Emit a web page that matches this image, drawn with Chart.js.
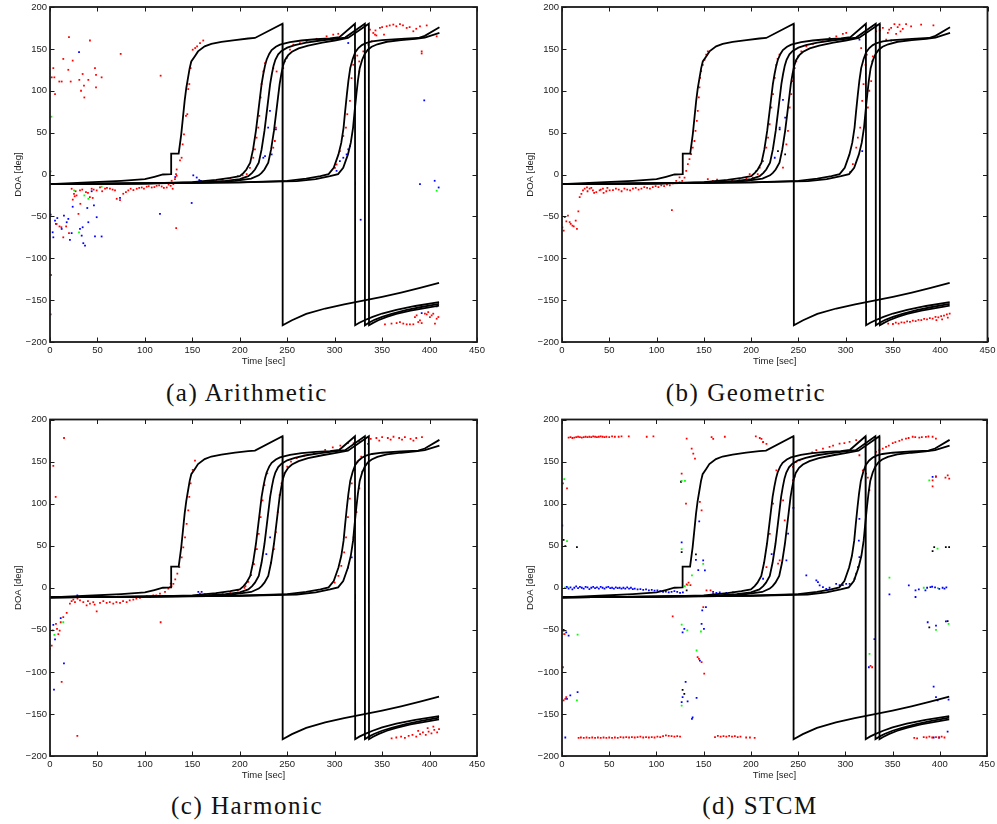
<!DOCTYPE html>
<html>
<head>
<meta charset="utf-8">
<script src="https://cdn.jsdelivr.net/npm/chart.js@4.4.0/dist/chart.umd.min.js"></script>
<style>
  body { margin: 0; background: #fff; width: 997px; height: 824px; position: relative; overflow: hidden; }
  canvas { position: absolute; }
  .cap { position: absolute; width: 300px; text-align: center; line-height: 30px;
         font-family: "Liberation Serif", "Times New Roman", serif; font-size: 25px;
         letter-spacing: 1.5px; color: #111; }
</style>
</head>
<body>
<canvas id="chartA" width="500" height="372" style="left:0;top:0"></canvas>
<canvas id="chartB" width="497" height="372" style="left:500px;top:0"></canvas>
<canvas id="chartC" width="500" height="374" style="left:0;top:412px"></canvas>
<canvas id="chartD" width="497" height="374" style="left:500px;top:412px"></canvas>
<div class="cap" style="left:97px;top:378px">(a) Arithmetic</div>
<div class="cap" style="left:596px;top:378px">(b) Geometric</div>
<div class="cap" style="left:97px;top:791px">(c) Harmonic</div>
<div class="cap" style="left:610px;top:791px">(d) STCM</div>
<script>
// axis ticks
const xTicks = [0, 50, 100, 150, 200, 250, 300, 350, 400, 450];
const yTicks = [-200, -150, -100, -50, 0, 50, 100, 150, 200];

// true source tracks [time, DOA]
const track1 = [[0,-11.5],[40,-9.5],[75,-7.5],[100,-5.5],[110,-2.7],[119,0],[127.6,0.5],[127.7,25],[135.6,25],[138.3,48],[140.1,68],[141.9,88],[143.6,103],[145.4,115],[147.2,127],[148.9,135],[152.5,141],[156,147],[163,153],[170,156],[180.6,158.3],[195,160.5],[208.8,162.4],[216,163],[245,180],[245.2,-180],[255,-174],[270,-166.5],[290,-160],[310,-155],[330,-150.5],[350,-146],[370,-141],[390,-135.5],[410,-129.5]];
const track2 = [[0,-11.5],[100,-10.5],[150,-9],[175,-6.5],[190,-4],[200,-2],[204,2],[207,6],[211,14],[214,30],[217,52],[219.5,75],[221.3,92],[223,108],[224.8,120],[226.6,130],[228.3,137],[231,144],[233.6,148.5],[238,152.5],[242.4,155],[252.9,158],[265,160],[280,161.5],[295,162.5],[305,164],[321.4,180],[321.6,-180],[326,-177],[331.5,-174],[340,-170],[350,-166],[365,-161.5],[385,-157],[410,-152.5]];
const track3 = [[0,-11.5],[100,-10.5],[160,-9.5],[185,-7.5],[200,-5.5],[209,-2],[213,2],[216,6],[220,14],[223,30],[226,52],[228.5,75],[230.3,92],[232,108],[233.8,120],[235.6,130],[237.5,137],[240.5,143.5],[244,147.5],[250,151.5],[258,154.5],[270,157.5],[285,160],[300,162],[311,163.5],[331.8,180],[331.9,-180],[336,-177],[342,-173.5],[350,-170],[360,-166.5],[375,-162],[390,-158.5],[410,-154.5]];
const track4 = [[0,-11.5],[100,-10.5],[170,-9.5],[195,-7.5],[212,-5],[220,-1],[223,2],[226,6],[230,14],[233,30],[236,52],[238.5,75],[240.3,92],[242,108],[243.8,120],[245.6,130],[247.5,136.5],[251,142.5],[255,146.5],[262,150.5],[272,154],[287,157.5],[300,160],[314,163],[336,180],[336.2,-180],[340,-177.5],[346,-174],[355,-170],[365,-166.5],[380,-162.5],[395,-159.5],[410,-156.5]];
const track5 = [[0,-11.5],[100,-10.5],[200,-9.5],[250,-7.5],[270,-5],[285,-2],[293.6,0.5],[299,8],[304,24],[307,38],[309.4,56],[311,75],[312.9,96],[314.5,112],[316.4,127],[319,138],[321.7,146],[325,151],[328.7,154.5],[333,157],[339.3,159],[350,160.5],[370,162],[388,163],[395,165.5],[410.4,175.8]];
const track6 = [[0,-11.5],[100,-10.5],[200,-9.5],[260,-8],[280,-5.5],[295,-2],[303.6,0.5],[309,8],[314,24],[317,38],[319.4,56],[321,75],[322.9,96],[324.5,112],[326.4,127],[329,137],[331.7,144],[335,149],[339,152.5],[345,155.5],[355,158.5],[370,160.5],[385,162],[395,163.5],[410.4,169]];

// (a) Arithmetic estimates
const redA = [[20,164],[3.5,127],[4.6,116],[14,138],[19.3,125],[12.3,111],[5.3,96],[23.9,136],[21.8,111],[34.4,120],[30.9,113],[32.7,100],[35.8,106],[36.2,92],[40.4,113],[42.1,160],[47.4,127],[48.5,119],[48.5,104],[54.4,116],[74.5,144],[116.6,118],[1.8,116],[9.8,111],
  [150.4,149],[148.2,127],[146.8,108],[145.7,102],[144.7,72],[143.3,70],[141.2,48],[139.8,36],[138.7,20],[137,17],[133.5,6],[132.8,0.5],[131.7,-5.5],[128.2,-7.5],[158.1,157],[161.5,160],[155,153],[153,151],
  [22.8,-17],[25.3,-23],[31.6,-19],[37.9,-21],[43.9,-17],[49.2,-19],[52.7,-15.5],[58,-17],[63.2,-17],[68.5,-19],[70.3,-29],[73.8,-30.5],[77.2,-23],[82.5,-19],[87.9,-18.6],[91.4,-17],[96.7,-15.5],[101.9,-14.6],[107.2,-15.5],[112.4,-13.5],[117.7,-14.3],[123,-15.5],[127.2,-13.5],[130,-11.5],[133.5,-1.5],[129.3,-17],
  [27,-20],[34,-18],[40,-22],[46,-18],[55,-20],[60,-16],[66,-18],[80,-21],[85,-17],[94,-16],[99,-17],[104,-14],[110,-15],[115,-13],[120,-16],[125,-12],
  [7,-59],[10,-62],[12,-63],[14,-75],[17,-62],[20,-70],[30,-47],[28,-25],[32,-35],[42,-27],[45,-28],[1,-120],[0.7,-167],[133,-64],[24,-30],[26,-26],
  [207.3,0.5],[210.7,8],[214.2,20],[216,30],[217.7,44],[219.5,56],[220.6,70],[222,92],[223,108],[224.8,123],[226.6,133],[235.3,32],[237,40],[238.1,56],[235.3,127],[238.8,123],[245.8,127],[247.6,135],[249.4,139],[252.9,149],[256.4,155],[263.4,157],[270.4,159],[281,162],[291.5,165],[298.5,167],[303.8,168],[175,-8],[182,-6],[190,-4],[198,-2],[203,-1],
  [309.1,46],[311.9,56],[313.3,72],[316.1,88],[317.8,115],[319.6,131],[321.4,139],[323.8,142],[325.9,135],[325.9,123],[330.2,147],[335.5,155],[305.5,28],[302,12],[300.3,8],
  [337.2,173],[340.7,169],[347.7,175],[354.8,177],[361.8,179],[368.8,179.5],[375.9,175],[382.9,171],[389.9,177],[397,178],[407.5,165],[391.7,147],[391.7,144.5],[343,172],[350,176],[358,178],[365,177],[372,178],[379,176],[386,174],[344,166],[352,167],[339,159],[342.5,167],
  [353,-179],[359.9,-178],[365.3,-177.4],[368.8,-176.2],[372.3,-178],[375.9,-178.9],[379.3,-179],[382.9,-178.9],[384.6,-170.2],[386.4,-168.2],[388.1,-176.2],[389.9,-174.2],[391.7,-177.4],[395.1,-166.2],[397,-167],[398.6,-164.3],[400.4,-170.2],[402.2,-168.2],[403.9,-166.2],[405.7,-178],[407.5,-172.2],[409.3,-170.2]];
const blueA = [[30.6,146],[0.7,-48],[2.8,-69],[3.5,-75],[5.3,-55],[6.3,-59],[7.7,-52],[12.3,-65],[14.7,-49],[17.6,-57],[19.3,-53],[21,-78],[22.8,-70],[23.9,-38.5],[31.6,-65],[33.4,-73],[34.4,-63],[35.1,-82],[36.9,-85],[39.3,-40],[40.4,-57],[43.9,-20],[46.3,-37],[49.2,-51],[47.4,-74],[54.4,-74],[73.8,-28],[115.9,-47],[149.3,-34],[151,-1],[154.6,-3.6],[157.3,-6.7],[159.1,-7.5],[132,-3],[231.8,76],[229.9,56],[238.1,54],[233.6,24],[226.6,22],[224.8,20],[314.3,30],[316.1,34],[312.6,24],[309.1,20],[305.5,16],[302,4.4],[314.3,157],[394.4,88.5],[389.9,-11.5],[405.4,-7.5],[409.6,-15.5],[327.4,-54],[391.7,-165.5],[407.5,-157.5]];
const greenA = [[1.5,69],[0.7,3.6],[25.3,-19],[36.2,-25],[40.4,-29],[30.6,-69],[54.4,-14.6],[407.5,-19.4]];

// (b) Geometric estimates
const redB = [[0.4,-63],[1.8,-67],[2.9,-51],[4.6,-56],[6.3,-49],[8.1,-57],[9.2,-59],[11,-61],[12.4,-62],[14.5,-55],[15.8,-65],[17.3,-44],[18.7,-27],[20.5,-23],[22.2,-19],[24,-17],[26.4,-15.5],[29.2,-17],[32.7,-19],[36.3,-21],[39.8,-19],[43.3,-17],[46.9,-20],[50.4,-19],[53.9,-18.6],[57,-17],[60,-18],[63,-20],[66,-17],[69,-18],[72,-19],[75,-17],[78,-16],[81,-18],[84,-17],[87,-15],[90,-16],[93,-17],[96,-15],[99,-14],[102,-15],[105,-13],[108,-14],[111,-12],[114,-13],[117.2,-10.7],[120.8,-7.5],[124.3,-3.5],[116.2,-42.4],[27,-20],[31,-16],[34,-22],[41,-18],[44,-22],[48,-16],
  [124.3,-9.5],[127.1,-7.5],[129.6,-3.6],[131.4,4.4],[133.1,12.4],[134.8,18.3],[136.6,24.3],[138.3,32],[140.1,40],[141.2,52],[142.6,64],[143.6,76],[144.7,92],[145.4,104],[146.1,115.5],[147.2,123.5],[148.9,131],[150.7,137],[152.5,143],[154.2,147],
  [154.2,-5.5],[159.5,-7.5],[164,-6],[168,-8],[173.6,-8.3],[180,-7],[187.6,-6.7],[195,-5],[201.7,-3.6],[207,0.5],[162,-9],[185,-8.5],
  [198.5,0.5],[205.6,4.4],[209.1,8.3],[212.6,16],[216.1,32],[217.9,44],[219.6,60],[221.4,80],[223.2,96],[225,115.5],[226.7,131],[233.7,8.3],[237.3,36],[239,52],[240.8,80],[242.5,96],[244.2,111.5],[246.1,127],[247.8,135],[249.5,141],[253.1,147],[258.4,153],[265.4,156],[275.9,159],[283,163],[290.1,165],[297,168],[300.6,169],[228,138],[230,143],
  [307.6,12.4],[311.2,32],[312.9,44],[315.4,56],[317.5,88],[318.9,108],[321,131],[322.4,143],[327,111.5],[328.1,135],[328.7,141],[316.4,151],[325,100],[323.5,80],
  [332.3,171],[339.3,175],[344.6,169],[348.1,175],[351.6,179.5],[356.9,179],[360.4,174],[363.9,179.5],[369.2,177],[379.8,179],[392.8,178],[342.9,161],[348.1,160],[353.4,168],[336,172],[346,173],[355,176],[358,171],
  [345,-178],[350,-178.5],[353,-177],[356,-178],[359,-176.5],[362,-177],[365,-175.5],[368,-176],[371,-174.5],[374,-175],[377,-173.5],[380,-174],[383,-172.5],[386,-173],[389,-171.5],[392,-172],[395,-170],[398,-170.5],[401,-169],[404,-168.5],[407,-167],[410,-166],[396,-174],[402,-173],[408,-171]];
const blueB = [[233.7,89],[230.2,56],[225,20],[314.6,161],[317.5,28],[305,3],[236,68]];
const blackB = [[230.2,54],[228.4,28],[236,24]];

// (c) Harmonic estimates
const redC = [[3.5,145],[6,108],[14.8,178],
  [126.5,0.7],[130,4.7],[134.2,16.7],[136.3,24.5],[138.8,36],[140.5,48],[142.3,60],[144,76],[145.7,92],[146.8,108],[148.2,124],[150.4,140],[152.8,151],[128,2],[132,10],
  [0,-72.6],[1.8,-68.7],[2.8,-50.8],[6.3,-43],[7.4,-49],[8.8,-55],[10.2,-51],[11.3,-41],[14,-35],[12.3,-112],[17.6,-30],[21,-19],[22.8,-16],[24.6,-14],[26.3,-17],[28.8,-176],[31.6,-15],[35.1,-17],[38.6,-21],[42.1,-19],[45.6,-17],[49.2,-28],[52.7,-18],[56.2,-16],[59.7,-18],[63,-17],[66.7,-19],[70,-17],[73.8,-18],[77,-16],[80.8,-17],[84,-15],[87.8,-14],[91,-13],[94.8,-12],[98,-11],[101.9,-10],[105,-11],[108.9,-9],[112,-9],[115.9,-7],[116.6,-41],[121.2,-5],[124.7,-1],[127.2,5],[40,-16],[47,-20],[29,-13],
  [158,-7],[163,-7.5],[168,-8],[175,-7],[182,-6],[190,-5],[198,-3],[205,0],
  [206,2],[209,7],[212,15],[215,28],[218,46],[220,64],[222,84],[224,104],[226,122],[229,136],[233,30],[236,46],[238,66],[240,90],[242,110],[244,124],[247,136],[250,144],[254,150],[260,154],[268,157],[278,160],[290,164],[298,167],[306,169],[314,172],
  [300,6],[304,14],[307,26],[310,42],[312,60],[314,84],[316,106],[318,124],[321,140],[324,150],[328,156],[320,60],[323,90],[326,118],[329,138],
  [320,172],[326,174],[332,176],[338,177],[344,178],[350,179],[356,178],[362,179.5],[368,178],[374,179],[380,177],[386,178],[392,179],[335,171],[347,175],[359,176],[371,176],[383,175],
  [360,-179],[365,-178],[370,-177],[374,-178.5],[378,-176],[382,-175],[386,-177],[390,-174],[393,-172],[396,-175],[399,-171],[402,-173],[405,-169],[408,-172],[410,-168],[388,-170],[398,-167],[404,-165]];
const blueC = [[3.5,-44],[5.3,-61.5],[14.7,-90],[4.2,-121],[11.3,-36],[28.8,-9],[156.3,-5],[159.8,-5],[318,36],[314,24],[228,40],[232,60]];
const greenC = [[4.6,-56],[14,-41]];

// (d) STCM estimates
const redD = [[7,178.5],[9,179],[11,178],[13,178.5],[15,179],[17,179.5],[19,179],[21,178.5],[23,179],[25,179.5],[27,179],[29,179.5],[31,179],[33,180],[35,179.5],[37,179],[39,179.5],[41,180],[43,179.5],[45,179],[47,179.5],[50,179],[53,180],[56,179.5],[60,179.5],[63,180],[70.7,180],[89.7,179.5],[96.8,180],[158.4,179],[160.1,177],[172.4,179.5],[205.2,180],[209.4,178],[213,173],[216.5,171],[1,124],[5.3,118],
  [126.7,135.7],[131.3,100],[132,177.4],[137.3,165.5],[139,159.5],[140.8,153.6],[147.8,92],[146,102],[132,4],[134,6],[136,3],[153,-3],[157.3,-3.2],[160,-7],
  [17.6,-178.5],[20,-178],[23,-178.5],[26,-178],[29,-178.5],[32,-178],[35,-178.5],[38,-178],[41,-178.5],[44,-178],[47,-178.5],[50,-178],[53,-178.5],[56,-178],[59,-178.5],[62,-177.5],[65,-178],[68,-177.5],[71,-178],[74,-177.5],[77,-178],[80,-177.5],[83,-177],[86,-178],[89,-177.5],[92,-178],[95,-177.5],[98,-178],[101,-177],[104,-177.5],[107,-176.5],[110,-175.5],[113,-176],[116,-176.5],[119,-177],[122,-176.5],[125,-177],
  [162,-177.5],[165,-176],[168,-177],[171,-176.5],[174,-177],[177,-176],[180,-177],[183,-176.5],[186,-177.5],[189,-177],[195,-178],[199,-178],[204,-178.5],
  [373,-178.5],[376,-179],[383,-177.5],[386,-178],[389,-177],[392,-178],[396,-177.5],[399,-178],[402,-177],[405,-178],
  [117.2,-34],[143.6,-82.6],[145,-84.5],[147.8,-88.5],[150.6,-102],[149.6,-23],[326.7,-93],[328.4,-94.5],[1,-94.5],[2.8,-55],[1.7,-134],[4.5,-130],[3.5,-132],
  [211.2,177],[212.9,173],[223.5,100],[220,64],[216.5,24.5],[234.1,104],[235.8,80],[230.5,32.5],[228.8,28.6],[244.6,128],[246.4,132],[248.1,149.5],[251.6,151.5],[244.6,143.6],[227,139.6],[269.3,163.5],[276.3,165.5],[283.3,167.4],[293.9,171.4],[304.5,173.3],[311.5,175.4],[265,161],[287,169],[299,172],
  [318.5,139.6],[322,135.7],[323.8,131],[325.5,116],[314.9,157.5],[330.8,155.5],[332.5,161.4],
  [336.1,163.5],[339.6,165.5],[343.1,167.4],[346,169],[350.2,172],[353,173],[357.2,174.5],[360,176],[364.2,177.4],[367,178],[371.3,179.5],[374,179],[378.3,178.5],[381,179],[385.3,179.3],[388,179.8],[392.4,179.5],[395.9,177.4],
  [392.4,127.7],[395.9,131.7],[392.4,120.6],[408.4,133.7],[410,129.7],[406,131]];
const blueD = [[5,1],[7,-1],[9,0.5],[11,-2],[13,0],[15,1.5],[17,-0.5],[19,1],[21,0],[23,-1],[25,1],[27,0.5],[29,-1.5],[31,0],[33,1],[35,-0.5],[37,0.5],[39,-1],[41,1],[43,0],[45,-1],[47,0.5],[49,1],[51,-0.5],[53,0],[55,-1],[57,0.5],[59,-0.5],[61,0],[63,-1],[65,0],[67,-1],[69,0.5],[71,-1],[73,0],[75,-1.5],[77,-1],[80,-2],[83,-1.5],[86,-2.5],[89,-2],[92,-3],[95,-2.5],[98,-3.5],[101,-3],[104,-4],[107,-5],[110,-4.5],[113,-5.5],[116,-5],[119,-4],[122,-5],[125,-6],[128,-5.5],
  [160,-5],[163.5,-6],[167,-5.5],[174,-6],[181,-5.5],
  [149.5,32.5],[151.3,20.6],[152.4,-23],[148.5,-27],[147.8,-43],[150.3,-49],[127.7,-53],[129.5,-49],[130.9,-112],[127.7,-130],[126.7,-136],[133,-135],[138.3,-154],[137.6,-156],[142.5,-131],[146,-86.5],[145.3,79],[126.7,54],[141.8,33],[144.3,21],
  [1.7,-51],[4.5,-53],[7,-57],[3.5,-178],[5.3,-132],[8.8,-128],[16.5,-124],[0.3,74],
  [387.2,-41],[396,-45],[406.5,-40],[393.5,-117.5],[396,-130],[397.7,-134],[409.3,-133],[408.3,-171],[399.4,-178],[393.5,-178],[324.9,-94.5],[330.8,-61],[392.4,131.7],[395.9,132.5],
  [367.2,2.8],[374.3,-3.2],[377.8,-2],[384.8,-3.2],[386.6,0],[390.1,0.8],[391.9,1.2],[395,0.5],[399.5,-1.2],[403,0],[405,-1],[407,0.5],[374.3,-11],[346.7,-8],
  [258.7,14.6],[269.3,8.7],[271,6.7],[272.8,2.7],[276.3,0.8],[279.8,-1.2],[283.3,0],[290.3,4.7],[293.9,3],[297.4,3],[300.9,4.7],[304.5,4.7],[309.8,10.7],[311.5,16.7],[313.3,24.5],[314.9,36.4],[314.3,56],[314.9,82],
  [212.9,10.7],[237.6,32.5],[239.4,64.3],[222,40],[245,95]];
const greenD = [[2.4,129],[5.3,55.5],[1.7,-55],[16.5,-55.6],[15.8,-134],[126.7,127],[130.2,127],[126.7,46],[137.6,14.6],[149.5,28.5],[126.7,-43.7],[132.7,-50.8],[126.7,-140],[142.5,-74.6],[147.1,-52],[396,-50],[409.3,-43],[325.6,-78.6],[388.9,127.7],[397.6,46.4],[346.7,11.9],[383,0],[392,1],[398,-0.5],[3,0],[6,0.5],[130,2],[133,3]];
const blackD = [[1.7,57],[3.5,49.5],[15.8,48.3],[126.7,42.4],[141.8,39.6],[1.7,-50],[127.7,-121.4],[129.5,-126.2],[388.9,-47],[408.3,-39.7],[392.4,43.6],[394.1,48.3],[406.4,48.3],[409.9,48.3],[126,126],[132,-3]];

const tracks = [track1, track2, track3, track4, track5, track6];
const tickFont = { family: 'Liberation Sans, Arial, sans-serif', size: 9.5 };
const fmt = v => v < 0 ? '\u2212' + Math.abs(v) : String(v);

// box and inward ticks, matlab style
const frameTicks = {
  id: 'frameTicks',
  afterDatasetsDraw(chart) {
    const { ctx, chartArea: a, scales: { x, y } } = chart;
    ctx.save();
    ctx.strokeStyle = '#1a1a1a';
    ctx.lineWidth = 1;
    ctx.beginPath();
    x.ticks.forEach(t => {
      const px = Math.round(x.getPixelForValue(t.value)) + 0.5;
      ctx.moveTo(px, a.bottom); ctx.lineTo(px, a.bottom - 4.5);
      ctx.moveTo(px, a.top); ctx.lineTo(px, a.top + 4.5);
    });
    y.ticks.forEach(t => {
      const py = Math.round(y.getPixelForValue(t.value)) + 0.5;
      ctx.moveTo(a.left, py); ctx.lineTo(a.left + 4.5, py);
      ctx.moveTo(a.right, py); ctx.lineTo(a.right - 4.5, py);
    });
    ctx.stroke();
    ctx.lineWidth = 1.8;
    ctx.strokeRect(a.left, a.top, a.right - a.left, a.bottom - a.top);
    ctx.restore();
  }
};

function pts(arr) {
  return arr.map(([x, y]) => ({ x, y }));
}

function dots(arr, color) {
  return { data: pts(arr), backgroundColor: color, borderWidth: 0, pointRadius: 1.25, pointStyle: 'rect', showLine: false };
}

function makeChart(id, cfg, dotSets) {
  const datasets = tracks.map(tr => ({
    data: pts(tr), showLine: true, borderColor: '#000', borderWidth: 1.8, pointRadius: 0, fill: false
  })).concat(dotSets);

  new Chart(document.getElementById(id), {
    type: 'scatter',
    data: { datasets },
    options: {
      responsive: false,
      animation: false,
      events: [],
      layout: { padding: { left: 0, top: cfg.top, right: cfg.right, bottom: 0 } },
      plugins: { legend: { display: false }, tooltip: { enabled: false } },
      scales: {
        x: {
          type: 'linear', min: 0, max: 450,
          afterBuildTicks(s) { s.ticks = xTicks.map(v => ({ value: v })); },
          afterFit(s) { s.height = 30; s.paddingLeft = 0; s.paddingRight = 0; },
          grid: { display: false, drawTicks: false },
          border: { display: false },
          ticks: { font: tickFont, color: '#222', padding: 3, maxRotation: 0, autoSkip: false, callback: fmt },
          title: { display: true, text: 'Time [sec]', font: tickFont, color: '#222', padding: { top: 0, bottom: 4.6 } }
        },
        y: {
          type: 'linear', min: -200, max: 200,
          afterBuildTicks(s) { s.ticks = yTicks.map(v => ({ value: v })); },
          afterFit(s) { s.width = cfg.yw; s.paddingTop = 0; s.paddingBottom = 0; },
          grid: { display: false, drawTicks: false },
          border: { display: false },
          ticks: { font: tickFont, color: '#222', padding: 3, autoSkip: false, callback: fmt },
          title: { display: true, text: 'DOA [deg]', font: tickFont, color: '#222', padding: { top: cfg.yw - 37.7, bottom: 0 } }
        }
      }
    },
    plugins: [frameTicks]
  });
}

makeChart('chartA', { top: 7, right: 23, yw: 50 }, [dots(redA, '#ff0000'), dots(blueA, '#0000ff'), dots(greenA, '#00ff00')]);
makeChart('chartB', { top: 7, right: 9.5, yw: 62 }, [dots(redB, '#ff0000'), dots(blueB, '#0000ff'), dots(blackB, '#000')]);
makeChart('chartC', { top: 7.5, right: 23, yw: 50 }, [dots(redC, '#ff0000'), dots(blueC, '#0000ff'), dots(greenC, '#00ff00')]);
makeChart('chartD', { top: 7.5, right: 10, yw: 62 }, [dots(redD, '#ff0000'), dots(blueD, '#0000ff'), dots(greenD, '#00ff00'), dots(blackD, '#000')]);
</script>
</body>
</html>
